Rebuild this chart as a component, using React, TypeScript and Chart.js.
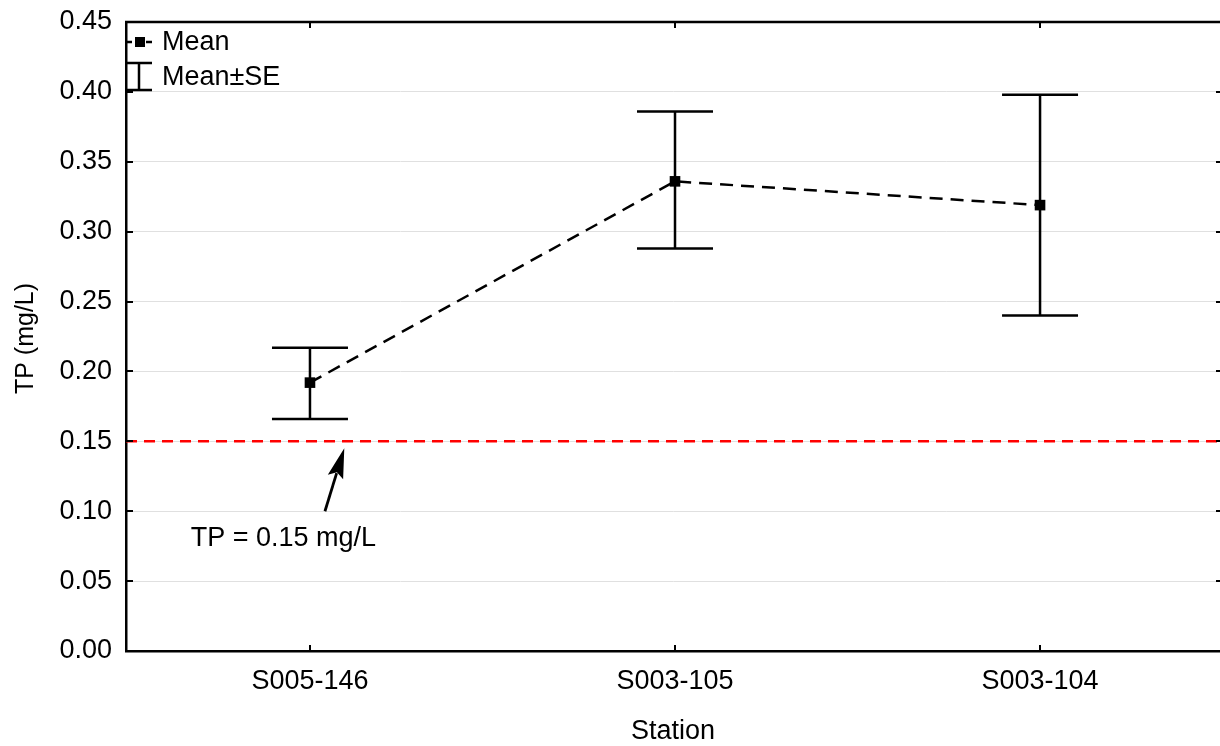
import React, { useEffect, useRef } from 'react';
import { Chart, registerables } from 'chart.js';

Chart.register(...registerables);

// ---- data ----
const stations = ['S005-146', 'S003-105', 'S003-104'];
const meanValues = [0.192, 0.336, 0.319];
const seUpper = [0.217, 0.386, 0.398];
const seLower = [0.166, 0.288, 0.240];
const yTickValues = [0, 0.05, 0.1, 0.15, 0.2, 0.25, 0.3, 0.35, 0.4, 0.45];
const thresholdValue = 0.15;
const thresholdLabel = 'TP = 0.15 mg/L';
const xAxisTitle = 'Station';
const yAxisTitle = 'TP (mg/L)';
const legendLabels = ['Mean', 'Mean±SE'];
// annotation anchors in data units (x = category index, y = TP)
const arrowTail = { x: 0.041, y: 0.1 };
const arrowTip = { x: 0.094, y: 0.145 };
const labelAnchor = { x: -0.073, y: 0.0805 };

const FONT = '"Liberation Sans", Arial, sans-serif';
const FS = 27;

const overlay = {
  id: 'overlay',
  beforeDatasetsDraw(chart: any) {
    const { ctx, chartArea: a, scales } = chart;
    const x = scales.x, y = scales.y;
    ctx.save();
    // threshold line
    const ty = y.getPixelForValue(thresholdValue);
    ctx.strokeStyle = '#ff0000';
    ctx.lineWidth = 2.5;
    ctx.setLineDash([11, 7]);
    ctx.beginPath();
    ctx.moveTo(a.left, ty);
    ctx.lineTo(a.right, ty);
    ctx.stroke();
    // error bars
    ctx.setLineDash([]);
    ctx.strokeStyle = '#000';
    ctx.lineWidth = 2.5;
    stations.forEach((_, i) => {
      const px = x.getPixelForValue(i);
      const top = y.getPixelForValue(seUpper[i]);
      const bot = y.getPixelForValue(seLower[i]);
      ctx.beginPath();
      ctx.moveTo(px, top);
      ctx.lineTo(px, bot);
      ctx.moveTo(px - 38, top);
      ctx.lineTo(px + 38, top);
      ctx.moveTo(px - 38, bot);
      ctx.lineTo(px + 38, bot);
      ctx.stroke();
    });
    ctx.restore();
  },
  afterDraw(chart: any) {
    const { ctx, chartArea: a, scales } = chart;
    const x = scales.x, y = scales.y;
    ctx.save();
    ctx.strokeStyle = '#000';
    ctx.fillStyle = '#000';
    ctx.setLineDash([]);
    // top border
    ctx.lineWidth = 2.5;
    ctx.beginPath();
    ctx.moveTo(a.left - 1, a.top);
    ctx.lineTo(a.right, a.top);
    ctx.stroke();
    // inward ticks
    ctx.lineWidth = 2;
    ctx.beginPath();
    yTickValues.forEach((v) => {
      const py = Math.round(y.getPixelForValue(v));
      ctx.moveTo(a.left, py);
      ctx.lineTo(a.left + 7, py);
      ctx.moveTo(a.right - 4, py);
      ctx.lineTo(a.right, py);
    });
    stations.forEach((_, i) => {
      const px = Math.round(x.getPixelForValue(i));
      ctx.moveTo(px, a.bottom);
      ctx.lineTo(px, a.bottom - 6);
      ctx.moveTo(px, a.top);
      ctx.lineTo(px, a.top + 6);
    });
    ctx.stroke();

    // axis titles
    ctx.font = `${FS}px ${FONT}`;
    ctx.textAlign = 'center';
    ctx.textBaseline = 'middle';
    ctx.fillText(xAxisTitle, (a.left + a.right) / 2, 732);
    ctx.save();
    ctx.font = `25px ${FONT}`;
    ctx.translate(26, (a.top + a.bottom) / 2 + 2);
    ctx.rotate(-Math.PI / 2);
    ctx.fillText(yAxisTitle, 0, 0);
    ctx.restore();

    // legend
    const ly1 = a.top + 20;
    ctx.lineWidth = 2.5;
    ctx.setLineDash([6, 4]);
    ctx.beginPath();
    ctx.moveTo(a.left, ly1);
    ctx.lineTo(a.left + 26, ly1);
    ctx.stroke();
    ctx.setLineDash([]);
    ctx.fillRect(a.left + 9, ly1 - 5, 10, 10);
    const ly2t = a.top + 41, ly2b = a.top + 68;
    ctx.beginPath();
    ctx.moveTo(a.left + 13, ly2t);
    ctx.lineTo(a.left + 13, ly2b);
    ctx.moveTo(a.left + 1, ly2t);
    ctx.lineTo(a.left + 26, ly2t);
    ctx.moveTo(a.left + 1, ly2b);
    ctx.lineTo(a.left + 26, ly2b);
    ctx.stroke();
    ctx.textAlign = 'left';
    ctx.fillText(legendLabels[0], a.left + 36, ly1 + 1);
    ctx.fillText(legendLabels[1], a.left + 36, a.top + 56);

    // annotation arrow
    const tx = x.getPixelForValue(arrowTail.x), tyy = y.getPixelForValue(arrowTail.y);
    const hx = x.getPixelForValue(arrowTip.x), hy = y.getPixelForValue(arrowTip.y);
    const ang = Math.atan2(hy - tyy, hx - tx);
    const headLen = 30, headW = 8;
    const bx = hx - headLen * Math.cos(ang), by = hy - headLen * Math.sin(ang);
    ctx.lineWidth = 2.8;
    ctx.beginPath();
    ctx.moveTo(tx, tyy);
    ctx.lineTo(bx + 4 * Math.cos(ang), by + 4 * Math.sin(ang));
    ctx.stroke();
    ctx.beginPath();
    ctx.moveTo(hx, hy);
    ctx.lineTo(bx + headW * Math.sin(ang), by - headW * Math.cos(ang));
    ctx.lineTo(bx + 5 * Math.cos(ang), by + 5 * Math.sin(ang));
    ctx.lineTo(bx - headW * Math.sin(ang), by + headW * Math.cos(ang));
    ctx.closePath();
    ctx.fill();
    ctx.textAlign = 'center';
    ctx.fillText(thresholdLabel, x.getPixelForValue(labelAnchor.x), y.getPixelForValue(labelAnchor.y));
    ctx.restore();
  },
};

export default function App() {
  const ref = useRef<HTMLCanvasElement>(null);
  useEffect(() => {
    document.body.style.margin = '0';
    const chart = new Chart(ref.current as HTMLCanvasElement, {
      type: 'line',
      data: {
        datasets: [
          {
            label: legendLabels[0],
            data: stations.map((_, i) => ({ x: i, y: meanValues[i] })),
            borderColor: '#000',
            backgroundColor: '#000',
            borderWidth: 2.5,
            borderDash: [13, 8],
            tension: 0,
            pointStyle: 'rect',
            pointRadius: 7.5,
            pointBorderWidth: 0,
            pointBackgroundColor: '#000',
          },
        ],
      },
      options: {
        animation: false,
        responsive: false,
        devicePixelRatio: 1,
        layout: { autoPadding: false, padding: { top: 22, right: 0, left: 0, bottom: 0 } },
        plugins: { legend: { display: false }, tooltip: { enabled: false } },
        font: { family: FONT, size: FS },
        scales: {
          x: {
            type: 'linear',
            min: -0.504,
            max: 2.493,
            afterBuildTicks: (s: any) => {
              s.ticks = stations.map((_, i) => ({ value: i }));
            },
            afterFit: (s: any) => {
              s.height = 95;
              s.paddingLeft = 0;
              s.paddingRight = 0;
            },
            grid: { display: false, drawTicks: false },
            border: { display: true, color: '#000', width: 2.5 },
            ticks: {
              padding: 14,
              color: '#000',
              font: { family: FONT, size: FS },
              maxRotation: 0,
              autoSkip: false,
              callback: (v: any) => stations[Math.round(Number(v))] ?? '',
            },
          },
          y: {
            type: 'linear',
            min: 0,
            max: 0.45,
            afterBuildTicks: (s: any) => {
              s.ticks = yTickValues.map((v) => ({ value: v }));
            },
            afterFit: (s: any) => {
              s.width = 126;
              s.paddingTop = 0;
              s.paddingBottom = 0;
            },
            grid: { color: '#e0e0e0', lineWidth: 1, drawTicks: false },
            border: { display: true, color: '#000', width: 2.5 },
            ticks: {
              padding: 14,
              color: '#000',
              font: { family: FONT, size: FS },
              callback: (v: any) => Number(v).toFixed(2),
            },
          },
        },
      } as any,
      plugins: [overlay],
    });
    return () => chart.destroy();
  }, []);
  return (
    <div style={{ position: 'absolute', left: 0, top: 0, width: 1220, height: 746, background: '#fff' }}>
      <canvas ref={ref} width={1220} height={746} />
    </div>
  );
}
